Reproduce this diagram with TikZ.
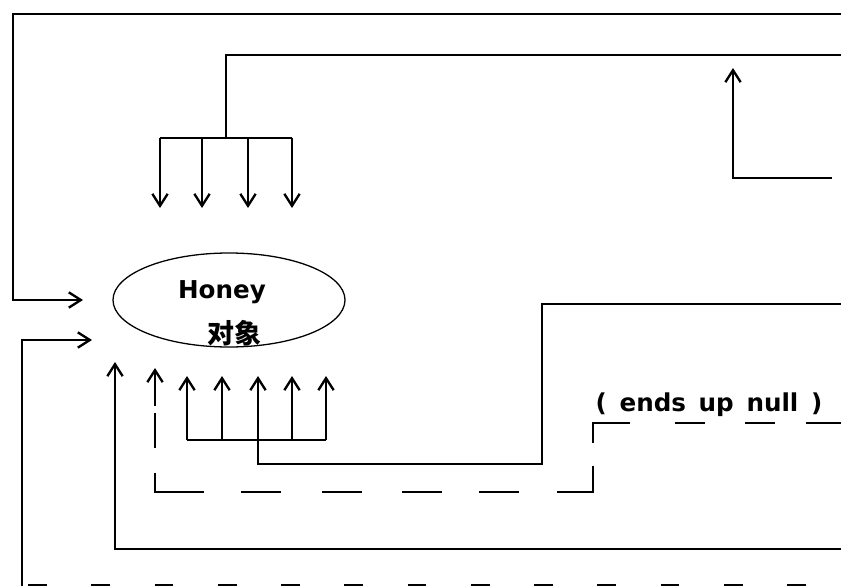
\documentclass[tikz,border=0pt]{standalone}
\usepackage{fontspec}
\setmainfont{DejaVu Sans}
\newfontfamily\cjk{Noto Sans CJK SC}
\usetikzlibrary{arrows.meta,shapes.geometric}

\begin{document}
\begin{tikzpicture}[x=0.03cm, y=-0.03cm, every node/.style={font=\bfseries\fontsize{21}{24}\selectfont}]
\tikzset{link/.style={line width=2pt}}
\tikzset{arrow/.style={link, -{Straight Barb[length=3.6mm, width=4.6mm]}}}
\tikzset{nullpath/.style={link, dash pattern=on 1.05cm off 0.21cm on 1.05cm off 0.75cm on 2.04cm off 1.11cm
  on 1.2cm off 1.23cm on 1.2cm off 1.2cm on 1.2cm off 1.11cm on 1.2cm off 1.14cm on 1.86cm off 0.69cm
  on 1.71cm off 1.35cm on 0.9cm off 1.2cm on 0.9cm off 0.93cm on 1.5cm off 1cm}}
\useasboundingbox (0,0) rectangle (841,586);
\node[draw, ellipse, line width=1.1pt, minimum width=6.96cm, minimum height=2.82cm] (honey) at (229,300) {};
\node (hname) at (222,292) {Honey};
\node[font=\cjk\bfseries\fontsize{23}{24}\selectfont] (hcn) at (234,333) {对象};
\node (nulltxt) at (709,405) {(\ \,ends\ \,up\ \,null\ \,)};
% ends on the right edge
\coordinate (r1) at (841,14);
\coordinate (r2) at (841,55);
\coordinate (r3) at (832,178);
\coordinate (r4) at (841,304);
\coordinate (r5) at (841,423);
\coordinate (r6) at (841,549);
\coordinate (r7) at (841,585);
% tips round the object
\coordinate (inA) at (83,300);
\coordinate (inB) at (92,340);
\coordinate (upA) at (115,362);
\coordinate (upB) at (155,368);
\coordinate (upR) at (733,68);
% arrows from the left
\draw[arrow] (r1) -- (13,14) -- (13,300) -- (inA);
\draw[arrow] (22,586) -- (22,340) -- (inB);
\draw[link, dash pattern=on 16pt off 38pt] (28,585) -- (r7);
% fan of four down arrows
\coordinate (fanTop) at (226,138);
\draw[link] (r2) -| (fanTop);
\draw[link] (160,138) -- (292,138);
\draw[arrow] (160,138) -- (160,208);
\draw[arrow] (202,138) -- (202,208);
\draw[arrow] (248,138) -- (248,208);
\draw[arrow] (292,138) -- (292,208);
% arrow on the right
\draw[arrow] (r3) -| (upR);
% fan of five up arrows
\coordinate (fanBot) at (258,440);
\draw[link] (r4) -- (542,304) |- (258,464) -- (fanBot);
\draw[link] (187,440) -- (326,440);
\draw[arrow] (187,440) -- (187,376);
\draw[arrow] (222,440) -- (222,376);
\draw[arrow] (258,440) -- (258,376);
\draw[arrow] (292,440) -- (292,376);
\draw[arrow] (326,440) -- (326,376);
% dashed path
\draw[link, nullpath, {Straight Barb[length=3.6mm, width=4.6mm]}-] (upB) -- (155,492) -- (593,492) -- (593,423) -- (r5);
% bottom loop
\draw[arrow] (r6) -| (upA);
\end{tikzpicture}
\end{document}
